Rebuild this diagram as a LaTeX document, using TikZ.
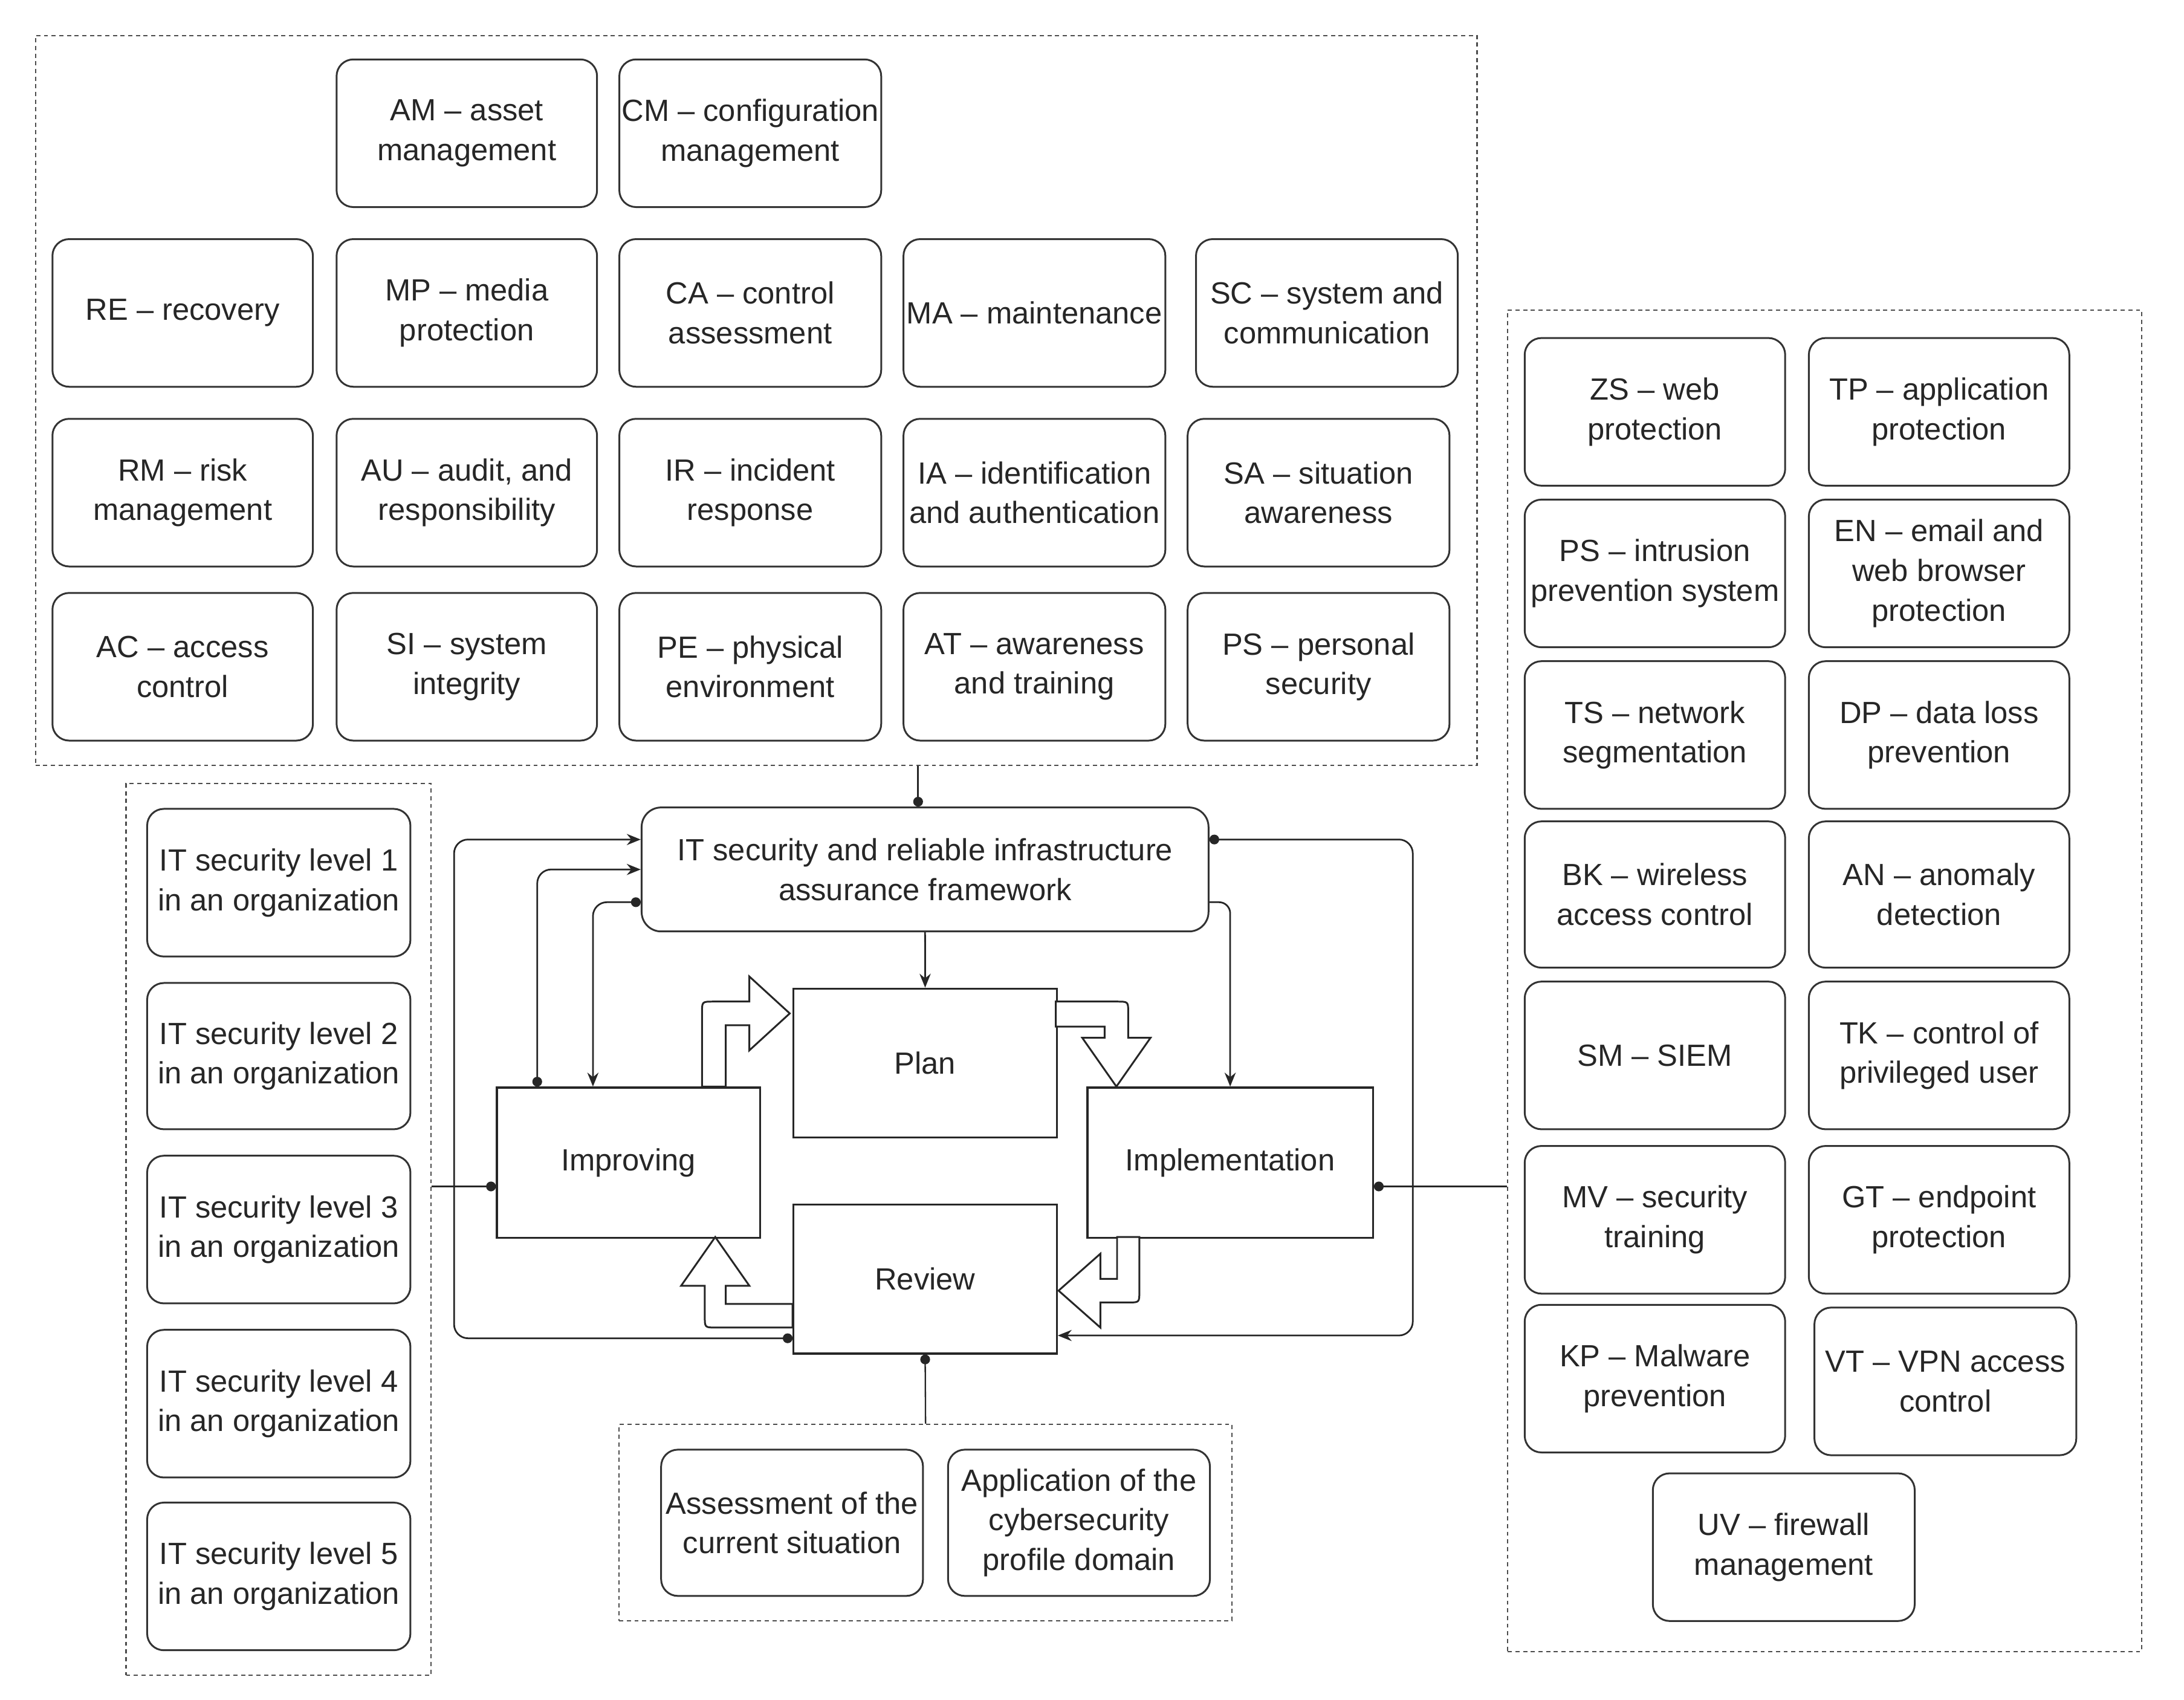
\documentclass[tikz,border=0pt]{standalone}
\usepackage{fontspec}
\setmainfont{Liberation Sans}
\usetikzlibrary{arrows.meta,calc}
\newcommand{\mybox}[6]{\node[rbox, minimum width=#4pt, minimum height=#5pt] (#1) at (#2,#3) {#6};}
\begin{document}
\begin{tikzpicture}[x=1pt,y=-1pt,
  txt/.style={font=\fontsize{22}{28.5}\selectfont, text=black!85},
  rbox/.style={txt, draw=black!80, line width=1.3pt, rounded corners=12pt, fill=white, align=center, inner sep=1pt, anchor=north west},
  sbox/.style={txt, draw=black!85, line width=1.4pt, fill=white, align=center, inner sep=1pt, anchor=north west},
  grp/.style={draw=black!70, line width=1pt, dash pattern=on 3pt off 2.5pt, anchor=north west, inner sep=0pt},
  conn/.style={draw=black!85, line width=1.2pt},
  toa/.style={-{Stealth[length=10pt,width=8pt]}},
  toc/.style={-{Circle[length=7pt]}},
  c2a/.style={{Circle[length=7pt]}-{Stealth[length=10pt,width=8pt]}},
  blk/.style={draw=black!85, line width=1.3pt, fill=white, line join=miter}
]
\fill[white] (0,0) rectangle (1568,1220);
\useasboundingbox (0,0) rectangle (1568,1220);

% groups
\node[grp, minimum width=1035pt, minimum height=524pt] (topgrp) at (25,25) {};
\node[grp, minimum width=219pt, minimum height=640pt] (leftgrp) at (90,562) {};
\node[grp, minimum width=455pt, minimum height=963pt] (rightgrp) at (1082,222) {};
\node[grp, minimum width=440pt, minimum height=141pt] (botgrp) at (444,1022) {};

% top group
\mybox{am}{241}{42}{187}{106}{AM – asset\\management}
\mybox{cm}{444}{42}{188}{106}{CM – configuration\\management}
\mybox{re}{37}{171}{187}{106}{RE – recovery}
\mybox{mp}{241}{171}{187}{106}{MP – media\\protection}
\mybox{ca}{444}{171}{188}{106}{CA – control\\assessment}
\mybox{ma}{648}{171}{188}{106}{MA – maintenance}
\mybox{sc}{858}{171}{188}{106}{SC – system and\\communication}
\mybox{rm}{37}{300}{187}{106}{RM – risk\\management}
\mybox{au}{241}{300}{187}{106}{AU – audit, and\\responsibility}
\mybox{ir}{444}{300}{188}{106}{IR – incident\\response}
\mybox{ia}{648}{300}{188}{106}{IA – identification\\and authentication}
\mybox{sa}{852}{300}{188}{106}{SA – situation\\awareness}
\mybox{ac}{37}{425}{187}{106}{AC – access\\control}
\mybox{si}{241}{425}{187}{106}{SI – system\\integrity}
\mybox{pe}{444}{425}{188}{106}{PE – physical\\environment}
\mybox{atr}{648}{425}{188}{106}{AT – awareness\\and training}
\mybox{psec}{852}{425}{188}{106}{PS – personal\\security}

% left group
\mybox{lva}{105}{580}{189}{106}{IT security level 1\\in an organization}
\mybox{lvb}{105}{705}{189}{105}{IT security level 2\\in an organization}
\mybox{lvc}{105}{829}{189}{106}{IT security level 3\\in an organization}
\mybox{lvd}{105}{954}{189}{106}{IT security level 4\\in an organization}
\mybox{lve}{105}{1078}{189}{106}{IT security level 5\\in an organization}

% right group
\mybox{zs}{1094}{242}{187}{106}{ZS – web\\protection}
\mybox{tp}{1298}{242}{187}{106}{TP – application\\protection}
\mybox{ips}{1094}{358}{187}{106}{PS – intrusion\\prevention system}
\mybox{en}{1298}{358}{187}{106}{EN – email and\\web browser\\protection}
\mybox{ts}{1094}{474}{187}{106}{TS – network\\segmentation}
\mybox{dp}{1298}{474}{187}{106}{DP – data loss\\prevention}
\mybox{bk}{1094}{589}{187}{105}{BK – wireless\\access control}
\mybox{an}{1298}{589}{187}{105}{AN – anomaly\\detection}
\mybox{sm}{1094}{704}{187}{106}{SM – SIEM}
\mybox{tk}{1298}{704}{187}{106}{TK – control of\\privileged user}
\mybox{mv}{1094}{822}{187}{106}{MV – security\\training}
\mybox{gt}{1298}{822}{187}{106}{GT – endpoint\\protection}
\mybox{kp}{1094}{936}{187}{106}{KP – Malware\\prevention}
\mybox{vt}{1302}{938}{188}{106}{VT – VPN access\\control}
\mybox{uv}{1186}{1057}{188}{106}{UV – firewall\\management}

% bottom group
\mybox{asm}{474}{1040}{188}{105}{Assessment of the\\current situation}
\mybox{app}{680}{1040}{188}{105}{Application of the\\cybersecurity\\profile domain}

% central
\node[rbox, minimum width=407pt, minimum height=89pt, rounded corners=14pt] (fw) at (460,579) {IT security and reliable infrastructure\\assurance framework};
\node[sbox, minimum width=189pt, minimum height=107pt] (plan) at (569,709) {Plan};
\node[sbox, minimum width=189pt, minimum height=108pt] (impr) at (356,780) {Improving};
\node[sbox, minimum width=205pt, minimum height=108pt] (impl) at (780,780) {Implementation};
\node[sbox, minimum width=189pt, minimum height=107pt] (rev) at (569,864) {Review};

% connectors
\coordinate (ftop) at ([xshift=-5pt]fw.north);
\draw[conn,toc] (ftop |- topgrp.south) -- (ftop);
\draw[conn,toa] (fw.south) -- (plan.north);
\draw[conn,toa,rounded corners=8pt] ([yshift=-23.5pt]fw.east) -| (impl.north);
\draw[conn,c2a,rounded corners=10pt] ([yshift=21.5pt]fw.east) -- ++(146,0) |- ([yshift=-40.5pt]rev.east);
\coordinate (fwL) at ([yshift=21.5pt]fw.west);
\draw[conn,c2a,rounded corners=10pt] ([yshift=-42.5pt]rev.west) -| ([xshift=-134pt]fwL) -- (fwL);
\draw[conn,c2a,rounded corners=10pt] ([xshift=-65.5pt]impr.north) |- (fw.west);
\draw[conn,c2a,rounded corners=10pt] ([yshift=-23.5pt]fw.west) -| ([xshift=-25.5pt]impr.north);
\coordinate (Lp) at ([yshift=-17pt]impr.west);
\draw[conn,toc,line width=1pt] (leftgrp.east |- Lp) -- (Lp);
\coordinate (Rp) at ([yshift=-17pt]impl.east);
\draw[conn,toc,line width=1pt] (rightgrp.west |- Rp) -- (Rp);
\draw[conn,toc,line width=1pt] (botgrp.north) -- (rev.south);

% block arrows
\draw[blk] (504,780) -- (504,727) .. controls (504,719) .. (512,719) -- (538,719) -- (538,701) -- (567,727.5) -- (538,754) -- (538,736) -- (521,736) -- (521,780) -- cycle;
\draw[blk] (758,719) -- (802,719) .. controls (810,719) .. (810,727) -- (810,745) -- (826,745) -- (801.5,780) -- (777,745) -- (793,745) -- (793,737) -- (758,737) -- cycle;
\draw[blk] (818,888) -- (818,927) .. controls (818,935) .. (810,935) -- (790,935) -- (790,953) -- (760,926.5) -- (790,900) -- (790,918) -- (802,918) -- (802,888) -- cycle;
\draw[blk] (569,953) -- (514,953) .. controls (506,953) .. (506,945) -- (506,923) -- (489,923) -- (513.5,888) -- (538,923) -- (521,923) -- (521,936) -- (569,936) -- cycle;
\end{tikzpicture}
\end{document}
